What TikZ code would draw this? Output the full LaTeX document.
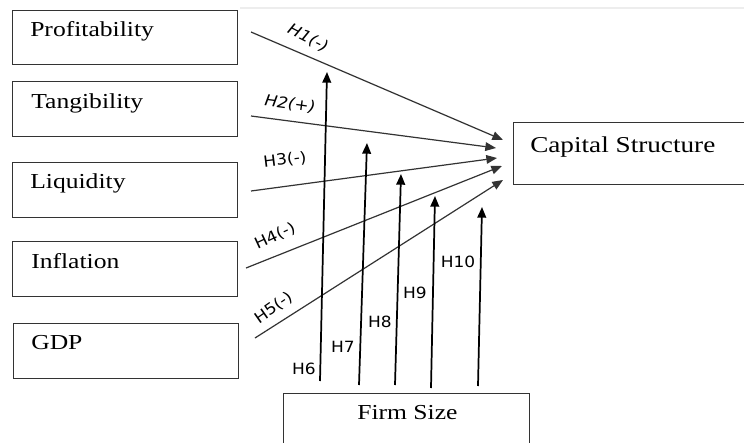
\documentclass[tikz,border=0pt]{standalone}
\usepackage{fontspec}
\usetikzlibrary{arrows.meta}
\newfontfamily\boxfont[FakeStretch=1.2]{Liberation Serif}
\newfontfamily\hfont[FakeStretch=1.1]{DejaVu Sans}
\tikzset{
  boxnode/.style={draw=black!80, line width=1pt, rectangle, inner sep=0pt},
  boxtext/.style={anchor=base west, inner sep=0pt, font=\boxfont\fontsize{16}{18}\selectfont},
  slant/.style={draw=black!80, line width=0.9pt, -{Triangle[length=8pt,width=6.5pt]}},
  vert/.style={draw=black, line width=1.3pt, -{Triangle[length=8pt,width=6.5pt]}},
  hlab/.style={inner sep=0pt, font=\hfont\fontsize{11.6}{13}\selectfont},
  hlabit/.style={inner sep=0pt, font=\hfont\itshape\fontsize{11.6}{13}\selectfont},
}
\begin{document}
\begin{tikzpicture}[x=0.75pt,y=-0.75pt]
\useasboundingbox[fill=white] (0,0) rectangle (744,443);
\draw[black!7, line width=1pt] (240,8) -- (744,8);
% boxes
\node[boxnode, fit/.style={}, minimum width=225*0.75pt, minimum height=54*0.75pt, anchor=north west] (prof) at (12,10) {};
\node[boxnode, minimum width=225*0.75pt, minimum height=55*0.75pt, anchor=north west] (tang) at (12,81) {};
\node[boxnode, minimum width=225*0.75pt, minimum height=55*0.75pt, anchor=north west] (liq) at (12,162) {};
\node[boxnode, minimum width=225*0.75pt, minimum height=55*0.75pt, anchor=north west] (infl) at (12,241) {};
\node[boxnode, minimum width=225*0.75pt, minimum height=55*0.75pt, anchor=north west] (gdp) at (13,323) {};
\node[boxnode, minimum width=240*0.75pt, minimum height=62*0.75pt, anchor=north west] (cap) at (513,122) {};
\node[boxnode, minimum width=246*0.75pt, minimum height=60*0.75pt, anchor=north west] (firm) at (283,393) {};
% box texts
\node[boxtext] (tprof) at (30,36) {Profitability};
\node[boxtext] (ttang) at (31,108) {Tangibility};
\node[boxtext] (tliq) at (30,188) {Liquidity};
\node[boxtext] (tinfl) at (31,268) {Inflation};
\node[boxtext] (tgdp) at (31,349) {GDP};
\node[boxtext, font=\boxfont\fontsize{17}{19}\selectfont] (tcap) at (530,152) {Capital Structure};
\node[boxtext] (tfirm) at (357,419) {Firm Size};
% slanted connector ends
\coordinate (s1) at (251,32);
\coordinate (s2) at (251,116);
\coordinate (s3) at (251,191);
\coordinate (s4) at (246,268);
\coordinate (s5) at (255,338);
\coordinate (e1) at (503,140);
\coordinate (e2) at (496,148);
\coordinate (e3) at (497,158);
\coordinate (e4) at (502,166);
\coordinate (e5) at (503,180);
\draw[slant] (s1) -- (e1);
\draw[slant] (s2) -- (e2);
\draw[slant] (s3) -- (e3);
\draw[slant] (s4) -- (e4);
\draw[slant] (s5) -- (e5);
% vertical connector ends
\coordinate (b6) at (320,381);
\coordinate (b7) at (359,385);
\coordinate (b8) at (395,385);
\coordinate (b9) at (431,388);
\coordinate (b10) at (478,386);
\coordinate (t6) at (327,72);
\coordinate (t7) at (367,143);
\coordinate (t8) at (401,174);
\coordinate (t9) at (435,196);
\coordinate (t10) at (482,207);
\draw[vert] (b6) -- (t6);
\draw[vert] (b7) -- (t7);
\draw[vert] (b8) -- (t8);
\draw[vert] (b9) -- (t9);
\draw[vert] (b10) -- (t10);
% labels
\node[hlabit, rotate=-27] (l1) at (308,38) {H1(-)};
\node[hlabit, rotate=-8] (l2) at (290,104) {H2(+)};
\node[hlab, rotate=7] (l3) at (285,160) {H3(-)};
\node[hlab, rotate=25] (l4) at (275,236) {H4(-)};
\node[hlab, rotate=35] (l5) at (274,308) {H5(-)};
\node[hlab] (l6) at (304,369) {H6};
\node[hlab] (l7) at (343,347) {H7};
\node[hlab] (l8) at (380,322) {H8};
\node[hlab] (l9) at (415,293) {H9};
\node[hlab] (l10) at (458,262) {H10};
\end{tikzpicture}
\end{document}
